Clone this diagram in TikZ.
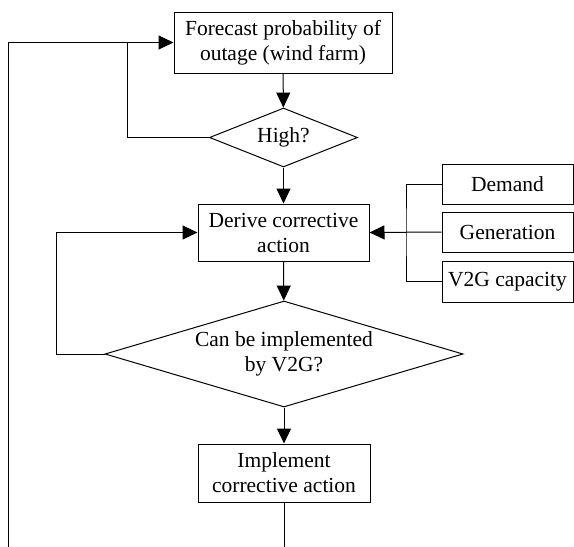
\documentclass[tikz,border=0pt]{standalone}
\usepackage{fontspec}
\setmainfont{Liberation Serif}
\usetikzlibrary{shapes.geometric,arrows.meta}
\begin{document}
\begin{tikzpicture}[x=1pt,y=-1pt,
  every node/.style={font=\fontsize{21.5pt}{25pt}\selectfont},
  boxnode/.style={draw,line width=1pt,rectangle,align=center,inner sep=0pt},
  decnode/.style={draw,line width=1pt,diamond,inner sep=0pt},
  line/.style={line width=1pt},
  arr/.style={line width=1pt,-{Triangle[length=15pt,width=14pt]}}]
\useasboundingbox (0,0) rectangle (574,547);
\node[boxnode,minimum width=218pt,minimum height=61pt] (fc) at (283,42.5) {Forecast probability of\\outage (wind farm)};
\node[decnode,minimum width=148pt,minimum height=59pt] (high) at (283.5,137.5) {};
\node at (high) {High?};
\node[boxnode,minimum width=171pt,minimum height=57pt] (der) at (283.5,232.5) {Derive corrective\\action};
\node[boxnode,minimum width=131pt,minimum height=40pt] (dem) at (507.5,184) {Demand};
\node[boxnode,minimum width=131pt,minimum height=40pt] (gen) at (507.5,232) {Generation};
\node[boxnode,minimum width=131pt,minimum height=41pt] (v2g) at (507.5,281.5) {V2G capacity};
\node[decnode,minimum width=358pt,minimum height=106pt] (can) at (284,354) {};
\node[align=center] at (can) {Can be implemented\\by V2G?};
\node[boxnode,minimum width=172pt,minimum height=58pt] (imp) at (284,473) {Implement\\corrective action};
\coordinate (bl) at (8.5,547);
\coordinate (bb) at (284,547);
\coordinate (j1) at (127,42.5);
\coordinate (j2) at (56,232.5);
\coordinate (bus) at (406,232);
% connectors
\draw[arr] (fc) -- (high);
\draw[arr] (high) -- (der);
\draw[arr] (der) -- (can);
\draw[arr] (can) -- (imp);
\draw[line] (imp) -- (bb);
\draw[arr] (bl) |- (fc.west);
\draw[line] (high.west) -| (j1);
\draw[arr] (can.west) -| (j2) -- (der.west);
\draw[line] (dem.west) -| (bus) |- (v2g.west);
\draw[arr] (gen.west) -- (der.east);
\end{tikzpicture}
\end{document}
